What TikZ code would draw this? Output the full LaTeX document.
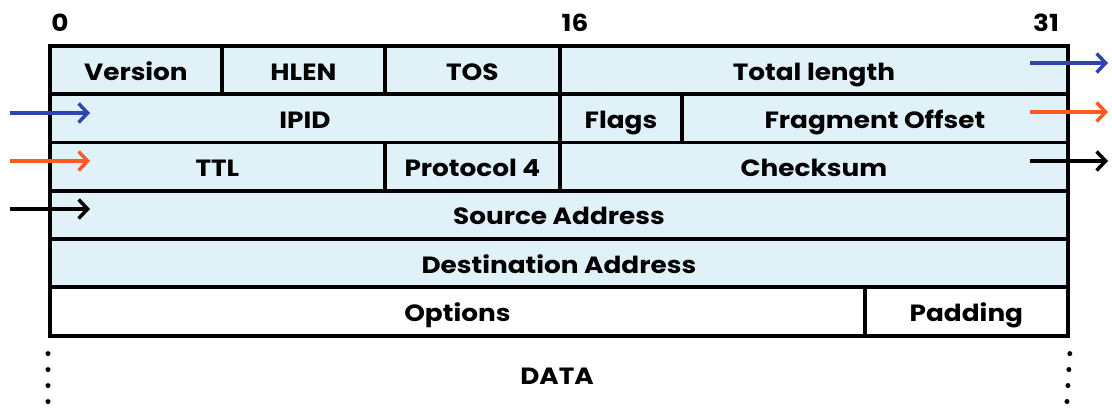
\documentclass[tikz,border=0pt]{standalone}
\usepackage{fontspec}
\setmainfont{Poppins}[FakeStretch=1.12]
\usepackage{tikz}
\usetikzlibrary{arrows.meta}

\definecolor{cellblue}{HTML}{E0F2F8}
\definecolor{arrowblue}{HTML}{2E44B0}
\definecolor{arroworange}{HTML}{FF5A24}

\tikzset{
  cell/.style={draw, line width=3.8pt, fill=cellblue, anchor=north west,
    inner sep=0pt, minimum height=48.3, text height=24pt, text depth=4pt,
    font=\fontsize{23.5}{27}\selectfont\bfseries},
  plaincell/.style={cell, fill=white},
  bitlabel/.style={font=\fontsize{23.5}{27}\selectfont\bfseries, inner sep=0pt},
  flow/.style={->, line width=3.5pt},
}

\begin{document}
\begin{tikzpicture}[x=1pt, y=-1pt, >={Straight Barb[length=9pt, width=19pt]}]
  \useasboundingbox (0,0) rectangle (1112,414);

  % bit positions
  \node[bitlabel] (bit0) at (60,23) {0};
  \node[bitlabel] (bit16) at (575,23) {16};
  \node[bitlabel] (bit31) at (1046,23) {31};

  % header rows
  \node[cell, minimum width=172] (version) at (48,44) {Version};
  \node[cell, minimum width=163] (hlen) at (220,44) {HLEN};
  \node[cell, minimum width=175] (tos) at (383,44) {TOS};
  \node[cell, minimum width=508] (totlen) at (558,44) {Total length};

  \node[cell, minimum width=510] (ipid) at (48,92.3) {IPID};
  \node[cell, minimum width=122] (flags) at (558,92.3) {Flags};
  \node[cell, minimum width=386] (fragoff) at (680,92.3) {Fragment Offset};

  \node[cell, minimum width=335] (ttl) at (48,140.6) {TTL};
  \node[cell, minimum width=175] (proto) at (383,140.6) {Protocol 4};
  \node[cell, minimum width=508] (chksum) at (558,140.6) {Checksum};

  \node[cell, minimum width=1018] (srcaddr) at (48,188.9) {Source Address};
  \node[cell, minimum width=1018] (dstaddr) at (48,237.2) {Destination Address};

  \node[plaincell, minimum width=815] (options) at (48,285.5) {Options};
  \node[plaincell, minimum width=203] (padding) at (863,285.5) {Padding};

  % data part
  \draw[line width=5pt, line cap=round, dash pattern=on 0pt off 16pt] (options.south west) ++(0,16) -- (48,418);
  \draw[line width=5pt, line cap=round, dash pattern=on 0pt off 16pt] (padding.south east) ++(0,16) -- (1066,418);
  \node[bitlabel] (data) at (557,376) {DATA};

  % wrap-around arrows
  \coordinate (out1) at (1030,63);
  \coordinate (out1e) at (1108,63);
  \coordinate (out2) at (1030,112);
  \coordinate (out2e) at (1108,112);
  \coordinate (out3) at (1030,161);
  \coordinate (out3e) at (1108,161);
  \coordinate (in1) at (10,113);
  \coordinate (in1e) at (90,113);
  \coordinate (in2) at (10,161);
  \coordinate (in2e) at (90,161);
  \coordinate (in3) at (10,209);
  \coordinate (in3e) at (90,209);

  \draw[flow, arrowblue] (out1) -- (out1e);
  \draw[flow, arroworange] (out2) -- (out2e);
  \draw[flow, black] (out3) -- (out3e);
  \draw[flow, arrowblue] (in1) -- (in1e);
  \draw[flow, arroworange] (in2) -- (in2e);
  \draw[flow, black] (in3) -- (in3e);
\end{tikzpicture}
\end{document}
